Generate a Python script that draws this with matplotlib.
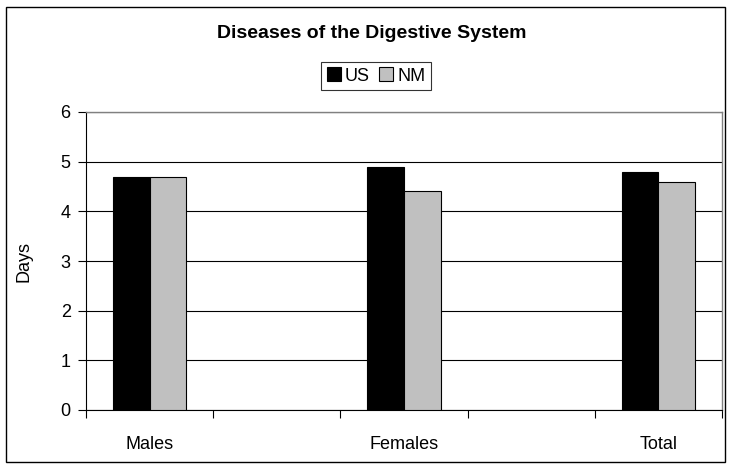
import matplotlib
matplotlib.use("Agg")
import matplotlib.pyplot as plt
import numpy as np

categories = ["Males", "Females", "Total"]
us = [4.7, 4.9, 4.8]
nm = [4.7, 4.4, 4.6]
yticks = [0, 1, 2, 3, 4, 5, 6]

plt.rcParams['font.family'] = ['Liberation Sans', 'DejaVu Sans']

fig = plt.figure(figsize=(7.31, 4.68), dpi=100)
# outer chart border
fig.patches.append(plt.Rectangle((6 / 731, 1 - 462 / 468), 719 / 731, 455 / 468,
                                 transform=fig.transFigure, fill=False,
                                 edgecolor='black', linewidth=1.0))

ax = fig.add_axes([86 / 731, 1 - 410 / 468, 636 / 731, 298 / 468])

# Excel-style category axis with blank slots between groups
centers = np.array([0.5, 2.5, 4.5])
w = 0.29
ax.bar(centers - w / 2, us, w, color='black', edgecolor='black', linewidth=0.8,
       label='US', zorder=3)
ax.bar(centers + w / 2, nm, w, color='#C0C0C0', edgecolor='black', linewidth=0.8,
       label='NM', zorder=3)

ax.set_xlim(0, 5)
ax.set_ylim(0, 6)
ax.set_yticks(yticks)
ax.set_yticklabels([str(t) for t in yticks], fontsize=13)
ax.yaxis.grid(True, color='black', linewidth=0.8, zorder=0)

ax.set_xticks(range(6))
ax.set_xticklabels([])
ax.set_xticks(centers, minor=True)
ax.set_xticklabels(categories, minor=True, fontsize=13)
ax.tick_params(axis='x', which='major', direction='out', length=6, width=0.8)
ax.tick_params(axis='x', which='minor', length=0, pad=19)
ax.tick_params(axis='y', direction='out', length=6, width=0.8, pad=5)

for s in ['top', 'right']:
    ax.spines[s].set_color('#808080')
    ax.spines[s].set_linewidth(1.0)
for s in ['left', 'bottom']:
    ax.spines[s].set_color('black')
    ax.spines[s].set_linewidth(0.8)

ax.set_ylabel("Days", fontsize=13)
ax.yaxis.set_label_coords((33 - 86) / 636, 0.5)

fig.text(372 / 731, 1 - 33 / 468, "Diseases of the Digestive System",
         ha='center', va='center', fontsize=14, fontweight='bold')

leg = ax.legend(loc='center', bbox_to_anchor=(376 / 731, 1 - 76 / 468),
                bbox_transform=fig.transFigure, ncol=2, fontsize=13,
                frameon=True, fancybox=False, edgecolor='black',
                handlelength=0.8, handleheight=0.8, handletextpad=0.2,
                columnspacing=0.5, borderpad=0.3, borderaxespad=0)
leg.get_frame().set_linewidth(0.8)

fig.savefig("out.png", dpi=100)
